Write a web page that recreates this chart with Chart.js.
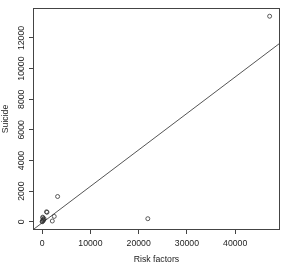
<!DOCTYPE html>
<html><head><meta charset="utf-8">
<script src="https://cdn.jsdelivr.net/npm/chart.js@4/dist/chart.umd.min.js"></script>
<style>html,body{margin:0;padding:0;background:#fff}canvas{display:block}</style>
</head><body>
<canvas id="c" width="287" height="267"></canvas>
<script>
const riskFactors = [0, 50, 100, 150, 250, 300, 400, 120, 900, 1000, 2100, 2500, 3200, 21900, 47150];
const suicide     = [0, 20, 80, 250, 150, 100, 200, 300, 650, 620, 50, 350, 1650, 200, 13420];
const xTicks = [0, 10000, 20000, 30000, 40000];
const yTicks = [0, 2000, 4000, 6000, 8000, 10000, 12000];
const fitIntercept = -68;
const fitSlope = 0.238;
const xLimits = [-1900, 49300];
const yLimits = [-537, 13957];
const xTitle = 'Risk factors';
const yTitle = 'Suicide';

const FONT = {family: '"Liberation Sans", Arial, sans-serif', size: 8.7};
const points = riskFactors.map((x, i) => ({x: x, y: suicide[i]}));
const fitLine = xLimits.map(x => ({x: x, y: fitIntercept + fitSlope * x}));

const boxPlugin = {
  id: 'box',
  afterDraw(chart) {
    const ctx = chart.ctx, a = chart.chartArea;
    ctx.save();
    ctx.strokeStyle = '#444'; ctx.lineWidth = 1;
    ctx.strokeRect(Math.round(a.left) + 0.5, Math.round(a.top) + 0.5,
                   Math.round(a.right - a.left) - 1, Math.round(a.bottom - a.top) - 1);
    // rotated y tick labels, R style
    const ys = chart.scales.y;
    ctx.fillStyle = '#222';
    ctx.font = FONT.size + 'px ' + FONT.family;
    ctx.textAlign = 'center'; ctx.textBaseline = 'middle';
    ys.ticks.forEach(t => {
      ctx.save();
      ctx.translate(22, ys.getPixelForValue(t.value));
      ctx.rotate(-Math.PI / 2);
      ctx.fillText(String(t.value), 0, 0);
      ctx.restore();
    });
    ctx.restore();
  }
};

new Chart(document.getElementById('c'), {
  type: 'scatter',
  data: {
    datasets: [
      {type: 'line', data: fitLine, borderColor: '#555', borderWidth: 1, pointRadius: 0, fill: false, order: 2},
      {data: points, pointStyle: 'circle', pointRadius: 2, borderWidth: 0.8,
       borderColor: '#333', backgroundColor: 'rgba(0,0,0,0)', order: 1}
    ]
  },
  options: {
    responsive: false, animation: false, devicePixelRatio: 1,
    layout: {padding: {top: 8, right: 7, left: 0, bottom: 0}},
    plugins: {legend: {display: false}, tooltip: {enabled: false}},
    scales: {
      x: {
        type: 'linear', min: xLimits[0], max: xLimits[1],
        afterBuildTicks: s => { s.ticks = xTicks.map(v => ({value: v})); },
        afterFit: s => { s.height = 37; },
        grid: {drawOnChartArea: false, tickLength: 4, color: '#444'},
        border: {display: false},
        ticks: {font: FONT, color: '#222', padding: 4, maxRotation: 0, autoSkip: false,
                callback: v => String(v)},
        title: {display: true, text: xTitle, font: FONT, color: '#222', padding: {top: 0, bottom: 2}}
      },
      y: {
        type: 'linear', min: yLimits[0], max: yLimits[1],
        afterBuildTicks: s => { s.ticks = yTicks.map(v => ({value: v})); },
        afterFit: s => { s.width = 33; },
        grid: {drawOnChartArea: false, tickLength: 4, color: '#444'},
        border: {display: false},
        ticks: {display: false},
        title: {display: true, text: yTitle, font: FONT, color: '#222', padding: 0}
      }
    }
  },
  plugins: [boxPlugin]
});
</script>
</body></html>
